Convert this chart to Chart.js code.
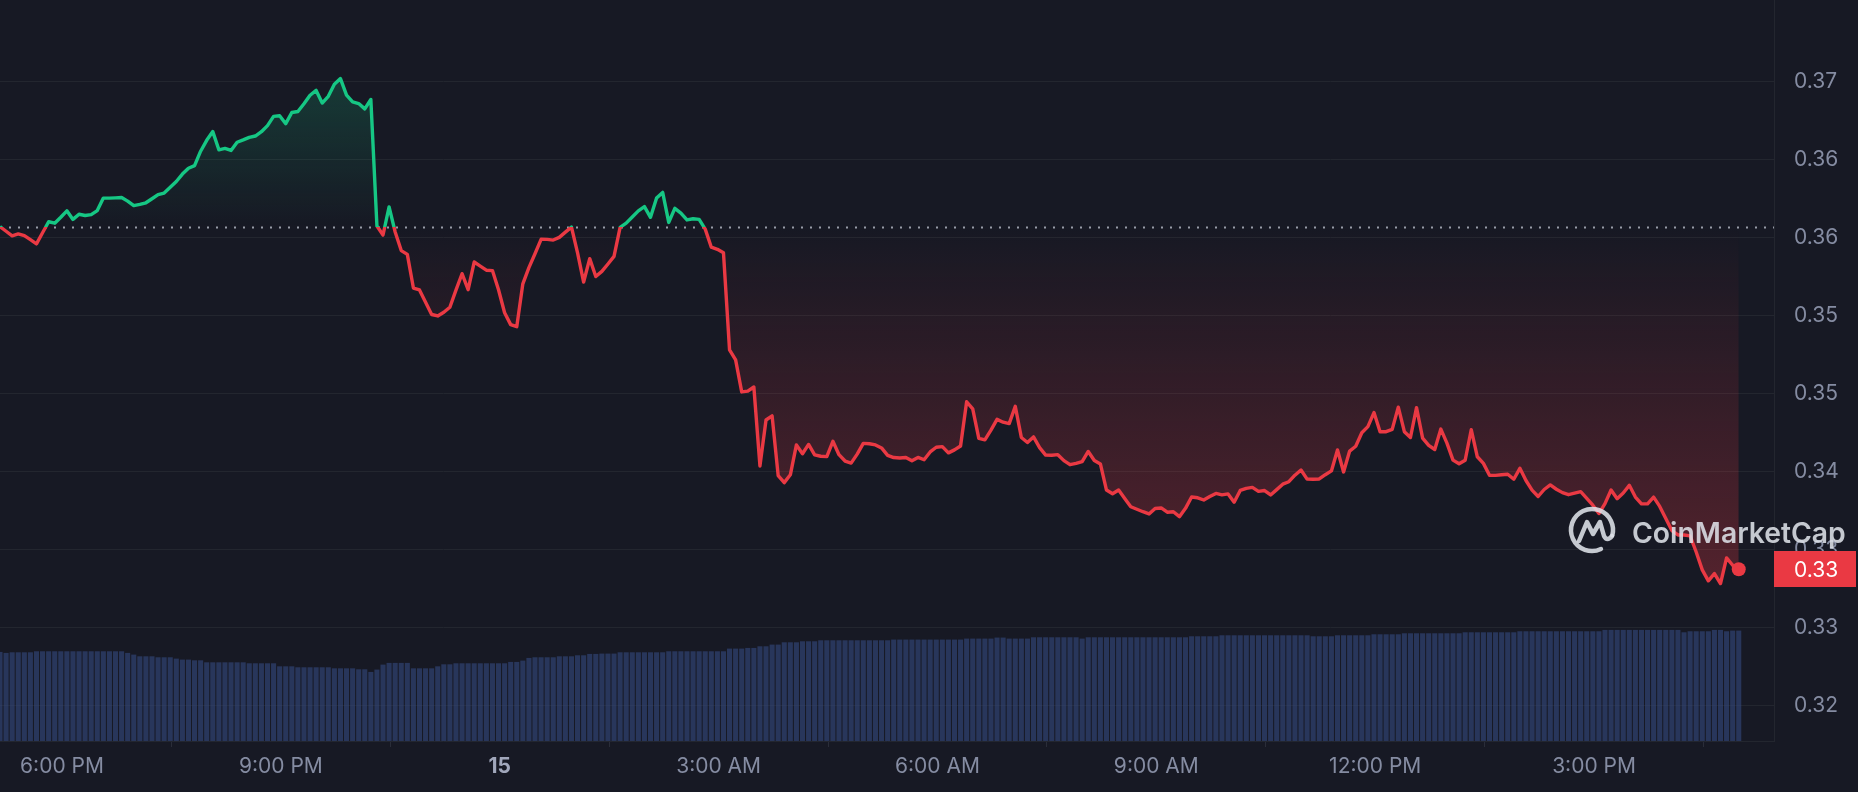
<!DOCTYPE html>
<html>
<head>
<meta charset="utf-8">
<title>Price chart · 24h</title>
<script src="https://cdn.jsdelivr.net/npm/chart.js@4.4.1/dist/chart.umd.min.js"></script>
<style>
  html, body { margin: 0; padding: 0; background: #171924; }
  #wrap { position: relative; width: 1858px; height: 792px; }
</style>
</head>
<body>
<div id="wrap"><canvas id="chart" width="1858" height="792"></canvas></div>
<script>
// 24h price line (5-min samples) over a rolling volume histogram, CMC dark style.

// first sample at 5:09 PM on the 14th, one sample every 5 minutes (minutes since 00:00 on the 14th)
const START_MIN = 17 * 60 + 9;
const STEP_MIN = 5;

const prices = [
  0.35884, 0.35849, 0.35814, 0.35829, 0.35815, 0.35784, 0.35752, 0.35837, 0.35922, 0.35911,
  0.35957, 0.36006, 0.35940, 0.35980, 0.35970, 0.35977, 0.36008, 0.36104, 0.36104, 0.36106,
  0.36109, 0.36081, 0.36046, 0.36056, 0.36068, 0.36099, 0.36131, 0.36143, 0.36187, 0.36232,
  0.36289, 0.36334, 0.36354, 0.36465, 0.36549, 0.36616, 0.36476, 0.36487, 0.36471, 0.36534,
  0.36552, 0.36572, 0.36582, 0.36615, 0.36662, 0.36733, 0.36738, 0.36677, 0.36763, 0.36771,
  0.36830, 0.36896, 0.36933, 0.36836, 0.36888, 0.36981, 0.37024, 0.36897, 0.36845, 0.36832,
  0.36791, 0.36863, 0.35889, 0.35820, 0.36036, 0.35843, 0.35700, 0.35671, 0.35412, 0.35397,
  0.35302, 0.35208, 0.35197, 0.35225, 0.35264, 0.35396, 0.35522, 0.35399, 0.35612, 0.35581,
  0.35549, 0.35546, 0.35399, 0.35222, 0.35130, 0.35114, 0.35444, 0.35569, 0.35676, 0.35787,
  0.35786, 0.35781, 0.35802, 0.35842, 0.35881, 0.35682, 0.35458, 0.35638, 0.35500, 0.35540,
  0.35597, 0.35655, 0.35879, 0.35911, 0.35959, 0.36006, 0.36039, 0.35956, 0.36104, 0.36148,
  0.35917, 0.36025, 0.35989, 0.35936, 0.35945, 0.35940, 0.35865, 0.35726, 0.35710, 0.35684,
  0.34935, 0.34859, 0.34612, 0.34618, 0.34650, 0.34042, 0.34396, 0.34428, 0.33968, 0.33914,
  0.33974, 0.34204, 0.34136, 0.34208, 0.34128, 0.34117, 0.34114, 0.34232, 0.34129, 0.34080,
  0.34064, 0.34133, 0.34216, 0.34213, 0.34204, 0.34181, 0.34124, 0.34107, 0.34104, 0.34107,
  0.34082, 0.34108, 0.34090, 0.34150, 0.34186, 0.34191, 0.34143, 0.34166, 0.34196, 0.34536,
  0.34482, 0.34255, 0.34243, 0.34318, 0.34401, 0.34379, 0.34368, 0.34501, 0.34261, 0.34223,
  0.34266, 0.34183, 0.34126, 0.34125, 0.34129, 0.34083, 0.34052, 0.34062, 0.34075, 0.34154,
  0.34084, 0.34058, 0.33857, 0.33828, 0.33857, 0.33792, 0.33728, 0.33709, 0.33690, 0.33673,
  0.33715, 0.33719, 0.33686, 0.33690, 0.33652, 0.33716, 0.33803, 0.33797, 0.33780, 0.33807,
  0.33831, 0.33820, 0.33827, 0.33763, 0.33854, 0.33870, 0.33877, 0.33847, 0.33853, 0.33819,
  0.33860, 0.33902, 0.33921, 0.33971, 0.34011, 0.33941, 0.33940, 0.33942, 0.33975, 0.34004,
  0.34165, 0.33996, 0.34157, 0.34194, 0.34298, 0.34345, 0.34453, 0.34306, 0.34306, 0.34324,
  0.34495, 0.34306, 0.34261, 0.34491, 0.34257, 0.34201, 0.34169, 0.34326, 0.34218, 0.34087,
  0.34059, 0.34086, 0.34321, 0.34113, 0.34062, 0.33971, 0.33970, 0.33975, 0.33978, 0.33940,
  0.34024, 0.33930, 0.33856, 0.33807, 0.33861, 0.33896, 0.33863, 0.33837, 0.33821, 0.33833,
  0.33844, 0.33793, 0.33740, 0.33676, 0.33752, 0.33857, 0.33790, 0.33834, 0.33893, 0.33803,
  0.33750, 0.33750, 0.33802, 0.33731, 0.33637, 0.33545, 0.33511, 0.33511, 0.33504, 0.33380,
  0.33242, 0.33158, 0.33214, 0.33137, 0.33334, 0.33278, 0.33247,
];

// 24h volume, USD millions
const volumes = [
  20.84, 20.61, 20.75, 20.75, 20.75, 20.75, 20.99, 20.99, 20.99, 20.99,
  20.99, 20.99, 20.99, 20.99, 20.99, 20.99, 20.99, 20.99, 20.99, 20.99,
  20.99, 20.61, 20.21, 19.81, 19.81, 19.81, 19.58, 19.58, 19.58, 19.27,
  19.04, 19.04, 18.87, 18.87, 18.40, 18.40, 18.40, 18.40, 18.40, 18.40,
  18.40, 18.17, 18.17, 18.17, 18.17, 18.17, 17.46, 17.46, 17.46, 17.23,
  17.23, 17.23, 17.23, 17.23, 17.23, 16.99, 16.99, 16.99, 16.99, 16.76,
  16.76, 16.14, 16.69, 17.86, 18.26, 18.26, 18.26, 18.26, 16.99, 16.99,
  16.99, 16.99, 17.46, 17.93, 17.93, 18.17, 18.17, 18.17, 18.17, 18.17,
  18.17, 18.17, 18.17, 18.17, 18.49, 18.49, 18.80, 19.43, 19.58, 19.58,
  19.58, 19.58, 19.81, 19.81, 19.81, 20.05, 20.05, 20.37, 20.37, 20.45,
  20.45, 20.45, 20.75, 20.75, 20.75, 20.75, 20.75, 20.75, 20.75, 20.75,
  20.99, 20.99, 20.99, 20.99, 20.99, 20.99, 20.99, 20.99, 20.99, 20.99,
  21.62, 21.62, 21.62, 21.78, 21.78, 22.16, 22.16, 22.56, 22.56, 23.10,
  23.10, 23.10, 23.34, 23.34, 23.34, 23.57, 23.57, 23.57, 23.57, 23.57,
  23.57, 23.57, 23.57, 23.57, 23.57, 23.57, 23.57, 23.74, 23.74, 23.74,
  23.74, 23.74, 23.74, 23.74, 23.74, 23.74, 23.74, 23.74, 23.74, 23.97,
  23.97, 23.97, 23.97, 23.97, 24.21, 24.21, 23.97, 23.97, 23.97, 23.97,
  24.28, 24.28, 24.28, 24.28, 24.28, 24.28, 24.28, 24.28, 23.97, 24.28,
  24.28, 24.28, 24.28, 24.28, 24.28, 24.28, 24.28, 24.28, 24.28, 24.28,
  24.28, 24.28, 24.28, 24.28, 24.28, 24.28, 24.51, 24.51, 24.51, 24.51,
  24.51, 24.75, 24.75, 24.75, 24.75, 24.75, 24.75, 24.75, 24.75, 24.75,
  24.75, 24.75, 24.75, 24.75, 24.75, 24.75, 24.51, 24.51, 24.51, 24.51,
  24.75, 24.75, 24.75, 24.75, 24.75, 24.75, 24.98, 24.98, 24.98, 24.98,
  24.98, 25.22, 25.22, 25.22, 25.22, 25.22, 25.22, 25.22, 25.22, 25.22,
  25.22, 25.45, 25.45, 25.45, 25.45, 25.45, 25.45, 25.45, 25.45, 25.45,
  25.69, 25.69, 25.69, 25.69, 25.69, 25.69, 25.69, 25.69, 25.69, 25.69,
  25.69, 25.69, 25.69, 25.69, 26.01, 26.01, 26.01, 26.01, 26.01, 26.01,
  26.01, 26.01, 26.01, 26.01, 26.01, 26.01, 26.01, 25.45, 25.69, 25.69,
  25.69, 25.69, 26.01, 26.01, 25.69, 25.85, 25.85,
];

const yTicks = [0.322, 0.328, 0.334, 0.340, 0.346, 0.352, 0.358, 0.364, 0.370];
const yRange = [0.31925, 0.37629];
const volumeMax = 174;

const xTickTimes = [1080, 1260, 1440, 1620, 1800, 1980, 2160, 2340];
const xTickLabels = ['6:00 PM', '9:00 PM', '15', '3:00 AM', '6:00 AM', '9:00 AM', '12:00 PM', '3:00 PM'];
const xRange = [1029, 2488];

const GREEN = '#16c784';
const RED = '#ea3943';
const GRID = '#23262f';
const MUTED = '#858ca2';
const FONT = 'Inter, "Noto Sans", sans-serif';

const openPrice = prices[0];
const times = prices.map((_, i) => START_MIN + i * STEP_MIN);

// fraction of the chart area height where the open-price line sits
function splitAt(chart) {
  const { chartArea, scales } = chart;
  const y = scales.y.getPixelForValue(openPrice);
  return Math.min(Math.max((y - chartArea.top) / (chartArea.bottom - chartArea.top), 0), 1);
}

function lineStroke(c) {
  const chart = c.chart;
  if (!chart.chartArea) return RED;
  const { top, bottom } = chart.chartArea;
  const s = splitAt(chart);
  const g = chart.ctx.createLinearGradient(0, top, 0, bottom);
  g.addColorStop(0, GREEN); g.addColorStop(s, GREEN);
  g.addColorStop(s, RED); g.addColorStop(1, RED);
  return g;
}

function areaFill(c) {
  const chart = c.chart;
  if (!chart.chartArea) return 'transparent';
  const { top, bottom } = chart.chartArea;
  const s = splitAt(chart);
  const g = chart.ctx.createLinearGradient(0, top, 0, bottom);
  g.addColorStop(0, 'rgba(22,199,132,0.30)');
  g.addColorStop(s, 'rgba(22,199,132,0.0)');
  g.addColorStop(s, 'rgba(234,57,67,0.0)');
  g.addColorStop(1, 'rgba(234,57,67,0.42)');
  return g;
}

// dotted open-price reference across the plot
const baseline = {
  id: 'baseline',
  beforeDatasetsDraw(chart) {
    const { ctx, chartArea, scales } = chart;
    const y = Math.round(scales.y.getPixelForValue(openPrice)) + 0.5;
    ctx.save();
    ctx.strokeStyle = 'rgba(175,180,192,0.85)';
    ctx.lineWidth = 2;
    ctx.setLineDash([2, 7]);
    ctx.beginPath();
    ctx.moveTo(chartArea.left, y);
    ctx.lineTo(chartArea.right, y);
    ctx.stroke();
    ctx.restore();
  },
};

// current price badge on the axis + CMC watermark
const overlay = {
  id: 'overlay',
  afterDraw(chart) {
    const { ctx, chartArea, scales } = chart;
    const last = prices[prices.length - 1];
    const y = scales.y.getPixelForValue(last);
    ctx.save();
    ctx.fillStyle = RED;
    ctx.fillRect(chartArea.right, Math.round(y - 18), 82, 36);
    ctx.fillStyle = '#ffffff';
    ctx.font = `21px ${FONT}`;
    ctx.textBaseline = 'middle';
    ctx.fillText(last.toFixed(2), chartArea.right + 20, y + 1);

    // watermark
    const cx = 1592, cy = 530, r = 21;
    ctx.strokeStyle = 'rgba(222,225,232,0.88)';
    ctx.fillStyle = 'rgba(222,225,232,0.88)';
    ctx.lineWidth = 4.5;
    ctx.lineCap = 'round';
    ctx.lineJoin = 'round';
    ctx.beginPath();
    ctx.arc(cx, cy, r, 0.36 * Math.PI, 2.08 * Math.PI);
    ctx.stroke();
    ctx.beginPath();
    ctx.moveTo(cx - 13, cy + 11);
    ctx.lineTo(cx - 5, cy - 8);
    ctx.lineTo(cx + 1, cy + 4);
    ctx.lineTo(cx + 8, cy - 8);
    ctx.lineTo(cx + 12, cy + 6);
    ctx.quadraticCurveTo(cx + 15, cy + 12, cx + 20, cy + 6);
    ctx.stroke();
    ctx.font = `600 30px ${FONT}`;
    const w = ctx.measureText('CoinMarketCap').width;
    ctx.font = `600 ${(30 * 214 / w).toFixed(1)}px ${FONT}`;
    ctx.textBaseline = 'alphabetic';
    ctx.fillText('CoinMarketCap', 1632, 543);
    ctx.restore();
  },
};

new Chart(document.getElementById('chart'), {
  type: 'bar',
  data: {
    datasets: [
      {
        type: 'line',
        label: 'Price',
        data: times.map((t, i) => ({ x: t, y: prices[i] })),
        yAxisID: 'y',
        order: 0,
        borderColor: lineStroke,
        backgroundColor: areaFill,
        borderWidth: 3.4,
        borderJoinStyle: 'round',
        tension: 0,
        fill: { target: { value: openPrice } },
        pointRadius: (c) => (c.dataIndex === prices.length - 1 ? 7 : 0),
        pointHoverRadius: 0,
        pointBackgroundColor: RED,
        pointBorderWidth: 0,
      },
      {
        type: 'bar',
        label: 'Volume',
        data: times.map((t, i) => ({ x: t, y: volumes[i] })),
        yAxisID: 'yv',
        order: 1,
        backgroundColor: 'rgba(51,72,126,0.62)',
        barThickness: 4.4,
        borderWidth: 0,
      },
    ],
  },
  options: {
    responsive: false,
    animation: false,
    layout: { padding: 0, autoPadding: false },
    plugins: { legend: { display: false }, tooltip: { enabled: false } },
    scales: {
      x: {
        type: 'linear',
        offset: false,
        min: xRange[0], max: xRange[1],
        afterBuildTicks: (s) => { s.ticks = xTickTimes.map((value) => ({ value })); },
        afterFit: (s) => { s.height = 51; s.paddingLeft = 0; s.paddingRight = 0; },
        grid: { drawOnChartArea: false, drawTicks: true, tickLength: 6, color: '#2a2d39' },
        border: { display: true, color: GRID },
        ticks: {
          autoSkip: false, maxRotation: 0, padding: 7,
          color: (c) => (c.tick && c.tick.value === 1440 ? '#a1a7bb' : MUTED),
          font: (c) => ({ family: FONT, size: 21, weight: c.tick && c.tick.value === 1440 ? 'bold' : 'normal' }),
          callback: (v) => xTickLabels[xTickTimes.indexOf(v)] ?? '',
        },
      },
      y: {
        position: 'right',
        min: yRange[0], max: yRange[1],
        afterBuildTicks: (s) => { s.ticks = yTicks.map((value) => ({ value })); },
        afterFit: (s) => { s.width = 84; s.paddingTop = 0; s.paddingBottom = 0; },
        grid: { color: GRID, drawTicks: false },
        border: { display: true, color: GRID },
        ticks: { padding: 20, color: MUTED, font: { family: FONT, size: 21 }, callback: (v) => v.toFixed(2) },
      },
      yv: {
        display: false,
        min: 0, max: volumeMax,
      },
    },
  },
  plugins: [baseline, overlay],
});
</script>
</body>
</html>
